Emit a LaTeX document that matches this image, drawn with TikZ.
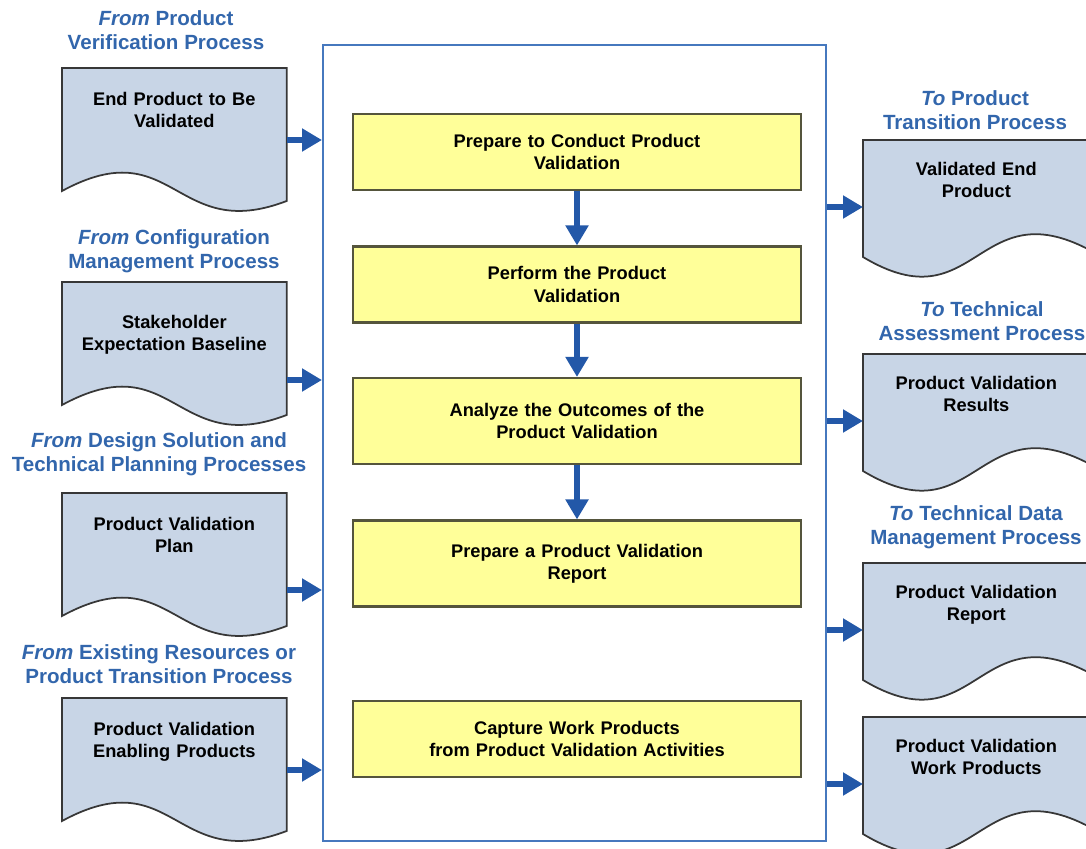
\documentclass[tikz,border=0pt]{standalone}
\usepackage{fontspec}
\setmainfont{Liberation Sans}
\usetikzlibrary{arrows.meta,calc,backgrounds,positioning}

\definecolor{lblblue}{RGB}{50,102,172}
\definecolor{frameblue}{RGB}{70,120,190}
\definecolor{arrowblue}{RGB}{35,88,168}
\definecolor{docfill}{RGB}{200,213,230}
\definecolor{docedge}{RGB}{55,55,55}
\definecolor{stepfill}{RGB}{255,255,153}
\definecolor{stepline}{RGB}{85,85,60}

\newcommand{\txtfont}{\bfseries\fontsize{10.4}{12.6}\selectfont}
\newcommand{\lblfont}{\bfseries\fontsize{11.7}{13.6}\selectfont}

% document outlines (wavy bottom), drawn from the text node anchors
\newcommand{\docinshape}[1]{%
  \path[docline] (#1.north west) -- (#1.north east) -- ($(#1.north east)+(0,133)$)
    .. controls ($(#1.north)+(0,176)$) and ($(#1.north)+(0,62)$) .. ($(#1.north west)+(0,123)$) -- cycle;}
\newcommand{\docoutshape}[1]{%
  \path[docline] (#1.north west) -- (#1.north east) -- ($(#1.north east)+(0,110)$)
    .. controls ($(#1.north)+(0,50)$) and ($(#1.north)+(0,185)$) .. ($(#1.north west)+(0,117)$) -- cycle;}

\tikzset{
  stepbox/.style={draw=stepline, line width=1.2pt, fill=stepfill, minimum width=8.96cm,
    minimum height=1.52cm, text width=8cm, align=center, font=\txtfont},
  docin/.style={anchor=north west, text width=4.1cm, inner xsep=0.19cm, inner ysep=0.48cm,
    align=center, font=\txtfont},
  docout/.style={docin, text width=4.14cm, inner ysep=0.44cm},
  docline/.style={draw=docedge, line width=1pt, fill=docfill},
  srcnote/.style={text=lblblue, font=\lblfont, align=center, inner sep=0pt, anchor=south},
  feed/.style={draw=arrowblue, line width=3.4pt, -{Triangle[length=0.4cm,width=0.44cm]}},
  procframe/.style={draw=frameblue, line width=1.2pt, anchor=north west, minimum width=10.06cm,
    minimum height=15.92cm, inner sep=0pt}
}

\begin{document}
\begin{tikzpicture}[x=0.02cm, y=-0.02cm]
    \useasboundingbox (0,0) rectangle (1086,849);

    % Process frame and steps
    \node[procframe] (proc) at (322,44) {};
    \node[stepbox] (prep) at (577,152) {Prepare to Conduct Product\\Validation};
    \node[stepbox] (perform) at (577,284.5) {Perform the Product\\Validation};
    \node[stepbox, minimum height=1.72cm] (analyze) at (577,421) {Analyze the Outcomes of the\\Product Validation};
    \node[stepbox, minimum height=1.72cm] (report) at (577,563.5) {Prepare a Product Validation\\Report};
    \node[stepbox] (capture) at (577,739) {Capture Work Products\\from Product Validation Activities};

    \draw[feed, line width=3.8pt] (prep) -- (perform);
    \draw[feed, line width=3.8pt] (perform) -- (analyze);
    \draw[feed, line width=3.8pt] (analyze) -- (report);

    % Inputs
    \node[srcnote] (fromVer) at (166,50) {\textit{From} Product\\Verification Process};
    \node[docin] (endProd) at (62,68) {End Product to Be\\Validated};
    \node[srcnote] (fromCfg) at (174,273) {\textit{From} Configuration\\Management Process};
    \node[docin, inner ysep=0.65cm] (stakeBase) at (62,282) {Stakeholder\\Expectation Baseline};
    \node[srcnote] (fromDes) at (159,476) {\textit{From} Design Solution and\\Technical Planning Processes};
    \node[docin] (valPlan) at (62,493) {Product Validation\\Plan};
    \node[srcnote] (fromRes) at (159,684) {\textit{From} Existing Resources or\\Product Transition Process};
    \node[docin] (enabling) at (62,698) {Product Validation\\Enabling Products};

    \draw[feed] (endProd.east |- 0,140) -- (proc.west |- 0,140);
    \draw[feed] (stakeBase.east |- 0,380) -- (proc.west |- 0,380);
    \draw[feed] (valPlan.east |- 0,590) -- (proc.west |- 0,590);
    \draw[feed] (enabling.east |- 0,770) -- (proc.west |- 0,770);

    % Outputs
    \node[srcnote] (toTrans) at (975,130) {\textit{To} Product\\Transition Process};
    \node[docout] (validEnd) at (863,140) {Validated End\\Product};
    \node[srcnote] (toAssess) at (982,341) {\textit{To} Technical\\Assessment Process};
    \node[docout] (valResults) at (863,354) {Product Validation\\Results};
    \node[srcnote] (toData) at (976,549) {\textit{To} Technical Data\\Management Process};
    \node[docout] (valReport) at (863,563) {Product Validation\\Report};
    \node[docout] (workProd) at (863,717) {Product Validation\\Work Products};

    \draw[feed] (proc.east |- 0,207) -- (validEnd.west |- 0,207);
    \draw[feed] (proc.east |- 0,421) -- (valResults.west |- 0,421);
    \draw[feed] (proc.east |- 0,630) -- (valReport.west |- 0,630);
    \draw[feed] (proc.east |- 0,784) -- (workProd.west |- 0,784);

    \begin{scope}[on background layer]
        \docinshape{endProd}
        \docinshape{stakeBase}
        \docinshape{valPlan}
        \docinshape{enabling}
        \docoutshape{validEnd}
        \docoutshape{valResults}
        \docoutshape{valReport}
        \docoutshape{workProd}
    \end{scope}
\end{tikzpicture}
\end{document}
